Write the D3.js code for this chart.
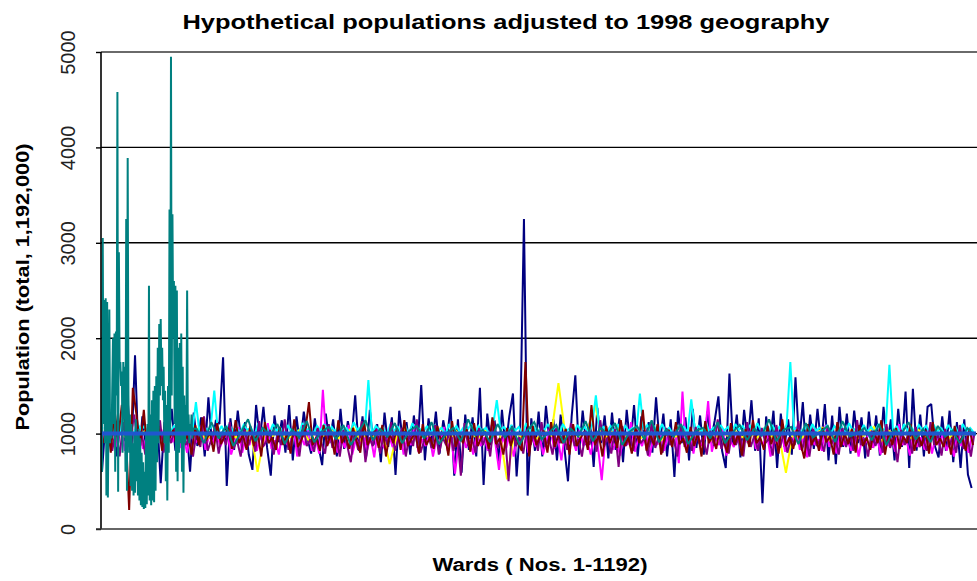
<!DOCTYPE html>
<html><head><meta charset="utf-8">
<script src="https://cdn.jsdelivr.net/npm/d3@7"></script>
<style>html,body{margin:0;padding:0;background:#fff;}svg{display:block;}</style>
</head><body>
<script>
const titleText = "Hypothetical populations adjusted to 1998 geography";
const xLabel = "Wards ( Nos. 1-1192)";
const yLabel = "Population (total, 1,192,000)";
const yTicks = [0, 1000, 2000, 3000, 4000, 5000];
const wardCount = 1192;

// Series 1 (navy): wards 1,6,11,... (every 5th ward)
const navyValues = [
600,1150,880,1250,760,1100,920,1350,800,1820,
700,1180,860,1090,780,1210,480,1120,900,1260,
820,1150,940,1080,600,1220,870,1170,760,1380,
880,1130,1100,1800,450,1160,830,1240,900,1120,
780,620,1300,940,1280,850,560,1190,910,1140,
800,1300,720,1180,880,1230,950,790,1160,870,
670,1210,900,1150,760,1260,840,1130,930,1400,
820,1180,760,1250,880,1100,700,1220,860,1170,
566,1240,910,1120,780,1190,850,1510,720,1160,
880,1230,790,1140,940,1280,560,1150,590,1200,
830,1170,760,1480,461,1210,880,1140,700,1250,
850,1180,1420,550,1100,3250,350,1160,820,1230,
760,1290,900,1150,720,1200,860,500,1180,1610,
780,1240,880,1130,650,1270,900,1190,740,1220,
830,1160,700,1250,870,1300,760,1180,920,1120,
800,1380,880,1210,760,1150,546,1240,900,1170,
720,1260,850,1190,780,1230,930,1140,1390,820,
640,1630,870,1200,750,1250,900,1350,820,1160,
270,1180,880,1240,640,1210,860,1150,780,1590,
900,1330,760,1200,840,1260,880,1310,720,1190,
680,1280,860,1210,790,1240,900,1170,740,1230,
850,1190,770,1280,880,1150,720,1260,860,1440,
640,1470,820,1200,760,1280,1310,870,750,1180,
820,1240,700,1120,640,1150,570,430];

// Series 2 (magenta): wards 2,7,12,...
const magentaValues = [
950,1080,900,1020,860,1120,820,980,1050,870,
1010,840,960,1100,880,930,1040,820,990,910,
1060,850,970,800,1020,890,940,1090,830,980,
900,1050,860,950,1000,780,920,1070,800,960,
880,1030,820,990,870,1110,840,930,780,1020,
900,850,1080,760,970,880,1040,820,950,790,
1460,870,930,1020,800,960,850,1090,780,940,
880,1010,820,970,750,1060,900,830,990,860,
920,1040,780,960,880,1100,810,940,870,1000,
760,950,890,1070,820,980,580,900,1030,850,
940,780,1010,870,960,820,1090,900,620,980,
850,1020,760,940,880,1050,800,970,860,1000,
780,930,1080,840,960,720,1010,890,950,820,
1040,870,930,780,990,850,512,960,1060,830,
920,770,1000,880,1120,810,950,870,1030,760,
940,880,1010,820,970,900,1060,690,1440,850,
980,790,1020,870,940,1340,810,960,880,1050,
770,930,860,1000,820,970,900,1080,840,950,
880,1010,760,940,870,1030,810,960,900,1070,
830,980,750,1020,880,940,820,1090,860,970,
790,1040,880,930,820,1000,760,960,900,1060,
850,980,780,1020,870,950,810,1100,880,940,
770,1010,860,960,830,1050,790,970,880,1000,
820,940,760,1020,870,930,800,990];

// Series 3 (yellow): wards 3,13,23,... (every 10th ward)
const yellowValues = [
1000,980,1040,960,1020,990,1050,940,1010,970,
1030,950,1000,1060,930,1020,980,1040,960,1000,
1050,600,1010,970,1030,940,990,1060,920,1020,
980,1040,950,1000,1070,930,1010,960,1030,680,
990,1050,940,1020,970,1000,1060,920,1030,980,
1010,950,1040,970,1000,520,1020,960,1050,940,
1030,980,1530,950,1010,970,1040,1300,930,1000,
1060,960,1020,940,990,1050,930,1010,970,1030,
950,1000,1070,920,1020,980,1040,960,1010,950,
1050,970,1000,590,1030,940,1020,980,1060,930,
1010,960,1040,950,1000,1070,920,1030,980,1010,
950,1040,970,1000,1060,930,1020,980,1000];

// Series 4 (cyan): wards 4,9,14,...
const cyanValues = [
1050,1120,1000,1090,980,1150,1030,1070,990,1110,
1040,1080,970,1120,1020,1060,990,1100,1010,1080,
1030,1100,980,1070,1020,1330,1000,1090,1040,1060,
1450,1010,1080,990,1100,1030,1070,1000,1090,1040,
1060,980,1110,1020,1080,1000,1100,1030,1060,990,
1090,1020,1070,980,1110,1040,1050,1000,1080,1030,
1100,990,1070,1020,1090,1030,1060,1000,1120,1040,
1070,1010,1560,1000,1080,1040,1060,980,1100,1030,
1070,1010,1090,990,1110,1030,1050,1020,1080,1000,
1090,1030,1060,990,1100,1020,1080,1010,1070,1040,
1100,1000,1080,1030,1060,990,1090,1350,1040,1070,
1010,1090,1030,1070,990,1110,1020,1080,1000,1060,
1040,1100,1020,1080,990,1100,1030,1060,1010,1090,
1030,1070,1000,1090,1400,1040,1070,1010,1080,1020,
1100,990,1080,1030,1060,1000,1420,1040,1090,1020,
1070,1000,1100,1030,1060,990,1090,1030,1070,1010,
1360,1040,1080,1010,1100,1020,1060,990,1090,1030,
1070,1000,1100,1040,1080,1020,1090,1000,1110,1030,
1060,1010,1090,1030,1070,990,1100,1750,1040,1070,
1010,1080,1000,1100,1030,1060,1020,1090,990,1080,
1040,1070,1000,1110,1030,1060,1000,1090,1020,1070,
1010,1100,1030,1060,1720,1020,1080,990,1100,1030,
1070,1000,1090,1040,1080,1010,1100,1020,1060,1000,
1090,1030,1070,990,1100,1030,1060,1010];

// Series 5 (purple): wards 5,10,15,...
const purpleValues = [
900,1150,820,1060,760,1120,880,980,1200,840,
1010,780,1090,870,950,1140,800,1000,900,1060,
830,1110,880,960,760,1030,860,1180,820,940,
1070,790,1000,880,1120,840,930,760,1050,870,
980,810,1130,860,920,1040,780,1000,880,1150,
830,950,1020,760,1090,870,940,810,1060,900,
790,1100,850,980,760,1040,880,700,1010,830,
1130,700,960,870,1050,790,1000,880,1120,820,
940,1060,760,990,870,1150,800,930,1020,850,
1090,780,960,880,1040,820,1000,560,1110,870,
950,800,1060,880,990,760,1130,850,940,1020,
500,1080,870,960,790,1040,880,1000,820,1120,
860,950,780,1060,900,990,830,1110,870,940,
760,1030,880,1000,810,1140,860,960,790,1050,
650,1080,870,990,820,1040,900,950,770,1120,
850,980,800,1060,880,940,760,1100,860,1000,
820,1070,890,960,780,1030,870,1150,840,950,
790,1040,880,1000,760,1120,860,980,820,1060,
900,950,770,1090,850,1010,800,960,880,1130,
820,1000,760,1050,870,940,810,1080,890,970,
780,1060,860,1000,820,1140,880,950,760,1030,
870,990,800,1100,850,960,700,1040,880,1010,
790,1070,860,940,820,1120,880,1000,770,1050,
860,960,800,1090,840,980,760,1010];

// Series 6 (maroon): wards 3,8,13,...
const maroonValues = [
900,1150,800,1250,950,1300,1100,200,1480,1200,
870,1250,780,1150,900,1080,820,1200,950,1040,
860,1130,910,1000,780,1090,880,1170,930,1020,
810,1110,890,970,1060,840,1140,900,990,830,
1080,870,1020,760,1120,900,960,830,1070,880,
1000,790,1150,860,940,1030,1330,880,960,820,
1090,870,1010,780,1140,900,980,840,1060,920,
800,1120,880,970,1030,850,1090,760,1000,900,
1060,830,1140,870,950,1010,790,1100,880,960,
840,1080,920,1000,770,1130,860,990,900,1050,
810,1110,870,960,1020,840,1170,890,950,780,
1060,870,1000,900,820,1750,760,1080,880,970,
1030,800,1120,860,990,900,1050,780,1100,870,
950,1020,830,1300,880,990,760,1080,900,1010,
850,1140,870,960,790,1060,900,1250,820,1000,
880,1100,780,970,1040,860,1120,890,950,800,
1070,870,1010,760,1130,900,980,840,1060,920,
800,1110,880,1000,770,1050,860,1140,900,960,
830,1080,890,1020,790,1150,870,960,840,1040,
900,740,1100,880,990,820,1060,910,970,780,
1120,860,1000,890,1050,800,1090,870,960,830,
1030,900,1140,780,1010,880,1060,840,970,900,
1100,820,990,870,1040,790,1120,880,950,860,
1010,780,1080,900,960,820,1050,880];

// Series 7 (teal): wards 1..125 one by one, then wards 130,140,...,1190
const tealEarlyValues = [
600,3050,1100,2400,900,2420,350,2380,330,1300,
2300,900,1200,950,1500,2000,1100,2050,600,2070,
1400,4580,390,2900,1700,1750,1500,1650,800,1750,
1150,1700,600,3250,400,3890,1400,800,1200,450,
1100,400,900,350,1000,380,1150,500,1000,350,
1050,300,950,250,800,230,700,210,600,220,
1000,260,1100,350,2550,300,1200,250,1350,300,
1450,280,1500,400,1600,700,1900,900,2150,1400,
2200,1500,1900,1350,1700,900,1450,500,1300,300,
1500,800,3350,1000,4950,1400,3300,2000,2600,1100,
2550,600,2500,500,1900,800,1950,900,2050,600,
1700,380,1400,900,1300,1000,2500,1000,1200,900,
1100,1000,1200,950,1050];
const tealLateValues = [
1050,900,1120,950,1080,870,1010,1150,920,1060,
980,1100,890,1040,960,1130,910,1020,1070,940,
1090,880,1010,1140,930,1050,970,1110,900,1030,
1080,950,1120,890,1000,1060,920,1150,980,1040,
910,1100,960,1070,880,1030,1120,940,1010,1090,
900,1050,970,1130,920,1060,990,1110,880,1020,
1080,940,1140,910,1040,970,1100,890,1030,1060,
950,1120,900,1010,1090,930,1050,980,1150,920,
1040,1070,890,1110,960,1020,1080,910,1130,970,
1000,1060,930,1100,880,1040,990,1120,940,1050,
910,1080,970,1030,900,1060,980];

// Series 8 (blue): equal-population line
const equalWards = [1, 1192];
const equalValues = [1000, 1000];

const W = 977, H = 581;
const svg = d3.select("body").append("svg").attr("width", W).attr("height", H)
  .style("font-family", "'Liberation Sans', Arial, sans-serif");
svg.append("rect").attr("width", W).attr("height", H).attr("fill", "#fff");

const x = d3.scaleLinear().domain([1, wardCount]).range([102, 976]);
const y = d3.scaleLinear().domain([0, 5000]).range([529, 52]);

// gridlines
svg.append("g").selectAll("line").data(yTicks.filter(d => d > 0)).join("line")
  .attr("x1", 101).attr("x2", W).attr("y1", d => y(d)).attr("y2", d => y(d))
  .attr("stroke", d => d === 5000 ? "#6a6a6a" : "#000").attr("stroke-width", d => d === 5000 ? 2 : 1.4);

function stepSeries(values, start, step) {
  return values.map((v, i) => ({ w: start + i * step, v }));
}
const series = [
  { color: "#000080", data: stepSeries(navyValues, 1, 5) },
  { color: "#ff00ff", data: stepSeries(magentaValues, 2, 5) },
  { color: "#ffff00", data: stepSeries(yellowValues, 3, 10) },
  { color: "#00ffff", data: stepSeries(cyanValues, 4, 5) },
  { color: "#800080", data: stepSeries(purpleValues, 5, 5) },
  { color: "#800000", data: stepSeries(maroonValues, 3, 5) },
  { color: "#008080", data: stepSeries(tealEarlyValues, 1, 1).concat(stepSeries(tealLateValues, 130, 10)) },
];
const line = d3.line().x(d => x(d.w)).y(d => y(d.v));
const plot = svg.append("g");
plot.selectAll("path.s").data(series).join("path").attr("class", "s")
  .attr("d", d => line(d.data)).attr("fill", "none")
  .attr("stroke", d => d.color).attr("stroke-width", 2).attr("stroke-linejoin", "miter").attr("stroke-miterlimit", 2);
plot.append("path")
  .attr("d", line(equalWards.map((w, i) => ({ w, v: equalValues[i] }))))
  .attr("fill", "none").attr("stroke", "#1f56cf").attr("stroke-width", 4);

// axes
const yAxis = d3.axisLeft(y).tickValues(yTicks).tickSize(5).tickFormat(d3.format("d"));
const gy = svg.append("g").attr("transform", "translate(101,0)").call(yAxis);
gy.select(".domain").remove();
gy.selectAll(".tick line").attr("stroke", "#000").attr("stroke-width", 1.4);
gy.selectAll(".tick text")
  .attr("x", 0).attr("dy", "0.36em")
  .attr("transform", "translate(-33,0) rotate(-90)")
  .attr("text-anchor", "middle").attr("fill", "#222")
  .style("font-size", "20px").style("font-family", "'Liberation Sans', Arial, sans-serif");
svg.append("line").attr("x1", 101).attr("x2", 101).attr("y1", 52).attr("y2", 529)
  .attr("stroke", "#000").attr("stroke-width", 1.6);
svg.append("line").attr("x1", 96).attr("x2", W).attr("y1", 529).attr("y2", 529)
  .attr("stroke", "#333").attr("stroke-width", 1.6);

// texts
svg.append("text").attr("x", 506).attr("y", 29).attr("text-anchor", "middle")
  .attr("font-weight", "bold").attr("font-size", 21)
  .attr("textLength", 647).attr("lengthAdjust", "spacingAndGlyphs").text(titleText);
svg.append("text").attr("x", 540).attr("y", 571).attr("text-anchor", "middle")
  .attr("font-weight", "bold").attr("font-size", 18)
  .attr("textLength", 215).attr("lengthAdjust", "spacingAndGlyphs").text(xLabel);
svg.append("text").attr("transform", "translate(23,287) rotate(-90)").attr("dy", "0.36em")
  .attr("text-anchor", "middle").attr("font-weight", "bold").attr("font-size", 18)
  .attr("textLength", 287).attr("lengthAdjust", "spacingAndGlyphs").text(yLabel);
</script>
</body></html>
